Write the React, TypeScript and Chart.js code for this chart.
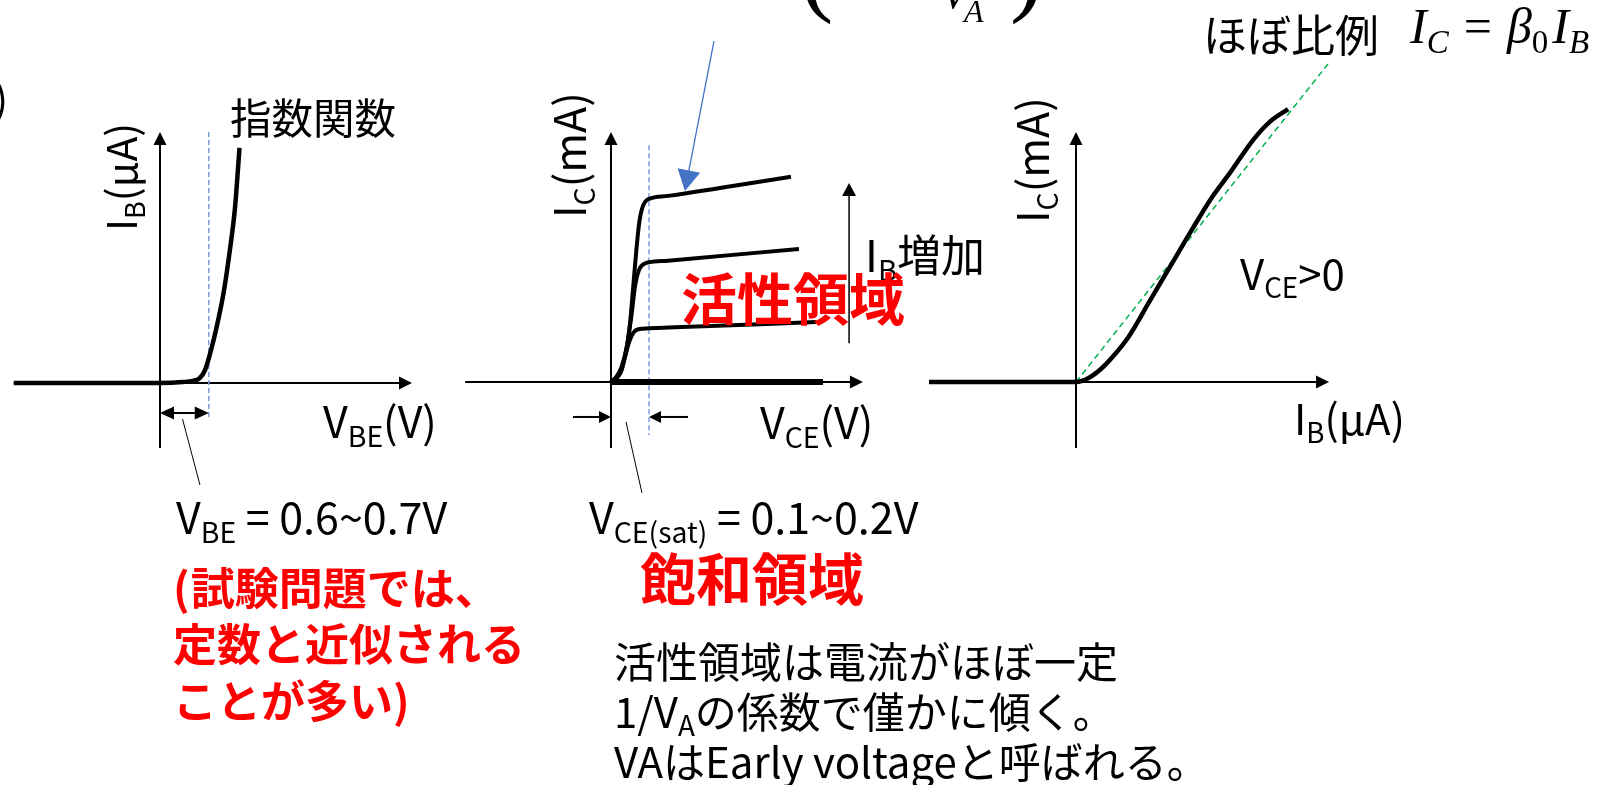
import React, { useEffect, useRef } from "react";
import { Chart, registerables } from "chart.js";

Chart.register(...registerables);

const W = 1616;
const H = 785;

// ---- Input characteristic: base current (uA) vs base-emitter voltage (V) ----
const vbe = [-1.95, 0, 0.3, 0.45, 0.53, 0.6, 0.67, 0.76, 0.85, 0.93, 1.0, 1.06];
const ibIn = [0, 0, 0.4, 1.0, 2.0, 5.4, 12.5, 24, 38, 55, 73, 98];
const vbeOn = 0.65;

// ---- Output characteristics: collector current (mA) vs collector-emitter voltage (V) ----
const vceHigh = [0, 0.03, 0.056, 0.083, 0.1, 0.117, 0.135, 0.149, 0.163, 0.179, 0.2, 0.3, 0.947];
const icHigh = [0, 0.3, 0.83, 1.9, 3.17, 5.15, 7.3, 8.65, 9.36, 9.73, 9.9, 10.06, 11.1];
const vceMid = [0, 0.056, 0.083, 0.109, 0.126, 0.147, 0.17, 0.2, 0.3, 0.989];
const icMid = [0, 0.65, 1.9, 3.7, 5.15, 6.05, 6.36, 6.47, 6.56, 7.19];
const vceLow = [0, 0.047, 0.074, 0.096, 0.117, 0.144, 0.2, 0.3, 1.079];
const icLow = [0, 0.47, 1.37, 2.18, 2.66, 2.85, 2.9, 2.94, 3.24];
const vceCut = [0, 1.116];
const icCut = [0, 0];
const vceSat = 0.2;

// ---- Transfer characteristic: collector current (mA) vs base current (uA) ----
const ibTr = [-70, 0, 6, 12, 18, 25, 35, 45, 55, 65, 73.3, 84.3, 92, 101];
const icTr = [0, 0, 0.15, 0.5, 1.0, 1.7, 3.04, 4.38, 5.72, 7.0, 7.89, 9.13, 9.8, 10.3];
const ibBeta = [0, 120];
const icBeta = [0, 12];

// Placement of each panel: origin on the page and pixels per unit.
type Frame = { ox: number; oy: number; kx: number; ky: number; xAxis: number[]; yAxis: number[] };
const FRAMES: Record<string, Frame> = {
  a: { ox: 160, oy: 383, kx: 75, ky: 2.4, xAxis: [-1.95, 3.36], yAxis: [-27.1, 104.6] },
  b: { ox: 611, oy: 382, kx: 190, ky: 18.5, xAxis: [-0.768, 1.326], yAxis: [-3.57, 13.51] },
  c: { ox: 1076, oy: 382, kx: 2.1, ky: 26.5, xAxis: [-69.5, 120.5], yAxis: [-2.49, 9.43] },
};

const JP = '"Noto Sans CJK JP", "Noto Sans", sans-serif';
const MATH = '"Liberation Serif", "DejaVu Serif", serif';
const RED = "#FF0000";
const GUIDE_BLUE = "#7F9FD8";
const ARROW_BLUE = "#4472C4";
const GREEN = "#00B050";

type Pt = { x: number; y: number };

function head(ctx: CanvasRenderingContext2D, from: Pt, to: Pt, len: number, wid: number, color: string) {
  const dx = to.x - from.x;
  const dy = to.y - from.y;
  const d = Math.hypot(dx, dy) || 1;
  const ux = dx / d;
  const uy = dy / d;
  const bx = to.x - ux * len;
  const by = to.y - uy * len;
  ctx.beginPath();
  ctx.moveTo(to.x, to.y);
  ctx.lineTo(bx - uy * wid / 2, by + ux * wid / 2);
  ctx.lineTo(bx + uy * wid / 2, by - ux * wid / 2);
  ctx.closePath();
  ctx.fillStyle = color;
  ctx.fill();
  return { x: bx + ux, y: by + uy };
}

function seg(ctx: CanvasRenderingContext2D, a: Pt, b: Pt, width: number, color: string, dash: number[] = []) {
  ctx.save();
  ctx.beginPath();
  ctx.setLineDash(dash);
  ctx.moveTo(a.x, a.y);
  ctx.lineTo(b.x, b.y);
  ctx.lineWidth = width;
  ctx.strokeStyle = color;
  ctx.stroke();
  ctx.restore();
}

function arrow(ctx: CanvasRenderingContext2D, from: Pt, to: Pt, width: number, color: string, len: number, wid: number) {
  const base = head(ctx, from, to, len, wid, color);
  seg(ctx, from, base, width, color);
}

function dblArrow(ctx: CanvasRenderingContext2D, a: Pt, b: Pt, width: number, color: string, len: number, wid: number) {
  const b1 = head(ctx, a, b, len, wid, color);
  const a1 = head(ctx, b, a, len, wid, color);
  seg(ctx, a1, b1, width, color);
}

const toPx = (chart: any) => (k: string, x: number, y: number): Pt => ({
  x: chart.scales["x" + k].getPixelForValue(x),
  y: chart.scales["y" + k].getPixelForValue(y),
});

const guides = {
  id: "guides",
  beforeDatasetsDraw(chart: any) {
    const ctx: CanvasRenderingContext2D = chart.ctx;
    const P = toPx(chart);
    ctx.save();
    // axes with arrow tips
    for (const k of ["a", "b", "c"]) {
      const f = FRAMES[k];
      arrow(ctx, P(k, f.xAxis[0], 0), P(k, f.xAxis[1], 0), 2, "#000", 13, 13);
      arrow(ctx, P(k, 0, f.yAxis[0]), P(k, 0, f.yAxis[1]), 2, "#000", 13, 13);
    }
    // turn-on voltage marker
    seg(ctx, P("a", vbeOn, 104.6), P("a", vbeOn, -15.4), 1.5, GUIDE_BLUE, [5, 3]);
    dblArrow(ctx, P("a", 0, -12.5), P("a", vbeOn, -12.5), 2, "#000", 14, 13);
    seg(ctx, P("a", 0.3, -15), P("a", 0.533, -42.5), 1, "#000");
    // saturation voltage marker
    seg(ctx, P("b", vceSat, 12.8), P("b", vceSat, -2.86), 1.5, GUIDE_BLUE, [5, 3]);
    arrow(ctx, P("b", -0.2, -1.89), P("b", 0, -1.89), 2, "#000", 12, 12);
    arrow(ctx, P("b", 0.405, -1.89), P("b", vceSat, -1.89), 2, "#000", 12, 12);
    seg(ctx, P("b", 0.079, -2.16), P("b", 0.163, -6.0), 1, "#000");
    // rising base current
    arrow(ctx, P("b", 1.253, 2.1), P("b", 1.253, 10.76), 1.5, "#000", 13, 14);
    ctx.restore();
  },
  afterDatasetsDraw(chart: any) {
    const ctx: CanvasRenderingContext2D = chart.ctx;
    const P = toPx(chart);
    ctx.save();
    // callout pointing at the slope of the active region
    arrow(ctx, P("b", 0.542, 18.43), P("b", 0.389, 10.32), 1.3, ARROW_BLUE, 21, 23);
    ctx.restore();
  },
};

const line = (k: string, xs: number[], ys: number[], width: number, extra: any = {}) => ({
  data: xs.map((x, i) => ({ x, y: ys[i] })),
  xAxisID: "x" + k,
  yAxisID: "y" + k,
  showLine: true,
  pointRadius: 0,
  borderColor: "#000",
  backgroundColor: "#000",
  borderWidth: width,
  cubicInterpolationMode: "monotone",
  borderJoinStyle: "round",
  fill: false,
  ...extra,
});

function buildScales() {
  const scales: any = {
    x: { type: "linear", display: false },
    y: { type: "linear", display: false },
  };
  for (const k of ["a", "b", "c"]) {
    const f = FRAMES[k];
    scales["x" + k] = { type: "linear", display: false, min: -f.ox / f.kx, max: (W - f.ox) / f.kx };
    scales["y" + k] = { type: "linear", display: false, min: -(H - f.oy) / f.ky, max: f.oy / f.ky };
  }
  return scales;
}

const Sub = ({ children, upright = false }: { children: React.ReactNode; upright?: boolean }) => (
  <span style={{ fontSize: "0.66em", verticalAlign: "-0.3em", lineHeight: 0, fontStyle: upright ? "normal" : undefined }}>
    {children}
  </span>
);

type TP = {
  x: number;
  y: number;
  size: number;
  color?: string;
  weight?: number;
  family?: string;
  rotate?: boolean;
  italic?: boolean;
  children: React.ReactNode;
};

function T({ x, y, size, color = "#000", weight = 400, family = JP, rotate = false, italic = false, children }: TP) {
  return (
    <div
      style={{
        position: "absolute",
        left: x,
        top: y,
        fontSize: size,
        color,
        fontWeight: weight,
        fontFamily: family,
        fontStyle: italic ? "italic" : "normal",
        lineHeight: 1,
        whiteSpace: "nowrap",
        transformOrigin: "0 0",
        transform: rotate ? "rotate(-90deg)" : undefined,
      }}
    >
      {children}
    </div>
  );
}

export default function App() {
  const ref = useRef<HTMLCanvasElement>(null);

  useEffect(() => {
    if (!ref.current) return;
    const chart = new Chart(ref.current, {
      type: "scatter",
      data: {
        datasets: [
          line("a", vbe, ibIn, 4.5),
          line("b", vceCut, icCut, 6, { cubicInterpolationMode: "default", tension: 0 }),
          line("b", vceHigh, icHigh, 4),
          line("b", vceMid, icMid, 4),
          line("b", vceLow, icLow, 4),
          line("c", ibTr, icTr, 4.5),
          line("c", ibBeta, icBeta, 1.5, { borderColor: GREEN, borderDash: [6, 4], cubicInterpolationMode: "default", tension: 0 }),
        ] as any,
      },
      options: {
        responsive: false,
        maintainAspectRatio: false,
        animation: false,
        devicePixelRatio: 1,
        events: [],
        layout: { padding: 0 },
        plugins: { legend: { display: false }, tooltip: { enabled: false }, title: { display: false } },
        scales: buildScales(),
      } as any,
      plugins: [guides],
    });
    return () => chart.destroy();
  }, []);

  const math = { fontFamily: MATH, fontStyle: "italic" } as React.CSSProperties;

  return (
    <div style={{ position: "fixed", left: 0, top: 0, width: W, height: H, background: "#fff", overflow: "hidden" }}>
      <canvas ref={ref} width={W} height={H} style={{ position: "absolute", left: 0, top: 0, width: W, height: H }} />

      {/* lower edge of the equation above */}
      <T x={800} y={-80} size={100} family={MATH}>(</T>
      <T x={941} y={-28} size={44} family={MATH} italic>V</T>
      <T x={964} y={-5} size={32} family={MATH} italic>A</T>
      <T x={1010} y={-80} size={100} family={MATH}>)</T>
      <T x={-6} y={76} size={42}>)</T>

      {/* input characteristic */}
      <T x={230} y={96} size={41.5}>指数関数</T>
      <T x={99} y={231} size={41} rotate>
        I<Sub>B</Sub>(μA)
      </T>
      <T x={323} y={398} size={43}>
        V<Sub>BE</Sub>(V)
      </T>
      <T x={176} y={494} size={43}>
        V<Sub>BE</Sub> = 0.6~0.7V
      </T>
      <T x={173} y={564} size={44} color={RED} weight={700}>
        <span style={{ marginRight: 1 }}>(</span>試験問題では、
      </T>
      <T x={173} y={620} size={44} color={RED} weight={700}>定数と近似される</T>
      <T x={173} y={677} size={44} color={RED} weight={700}>ことが多い)</T>

      {/* output characteristics */}
      <T x={546} y={218} size={43} rotate>
        I<Sub>C</Sub>(mA)
      </T>
      <T x={760} y={399} size={43}>
        V<Sub>CE</Sub>(V)
      </T>
      <T x={865} y={231} size={44}>
        I<Sub>B</Sub>増加
      </T>
      <T x={681} y={268} size={56} color={RED} weight={700}>活性領域</T>
      <T x={589} y={494} size={43}>
        V<Sub>CE(sat)</Sub> = 0.1~0.2V
      </T>
      <T x={640} y={548} size={56} color={RED} weight={700}>飽和領域</T>
      <T x={614} y={639} size={42}>活性領域は電流がほぼ一定</T>
      <T x={614} y={689} size={42}>
        1/V<Sub>A</Sub>の係数で僅かに傾く。
      </T>
      <T x={614} y={739} size={42}>VAはEarly voltageと呼ばれる。</T>

      {/* transfer characteristic */}
      <T x={1203} y={11} size={44}>ほぼ比例</T>
      <div
        style={{
          position: "absolute",
          left: 1410,
          top: 1,
          fontSize: 50,
          lineHeight: 1,
          whiteSpace: "nowrap",
          ...math,
        }}
      >
        I<Sub>C</Sub>
        <span style={{ fontStyle: "normal", margin: "0 0.3em" }}>=</span>β<Sub upright>0</Sub>
        <span style={{ marginLeft: "0.08em" }}>I</span>
        <Sub>B</Sub>
      </div>
      <T x={1009} y={223} size={43} rotate>
        I<Sub>C</Sub>(mA)
      </T>
      <T x={1240} y={251} size={42}>
        V<Sub>CE</Sub>&gt;0
      </T>
      <T x={1294} y={396} size={42}>
        I<Sub>B</Sub>(μA)
      </T>
    </div>
  );
}
